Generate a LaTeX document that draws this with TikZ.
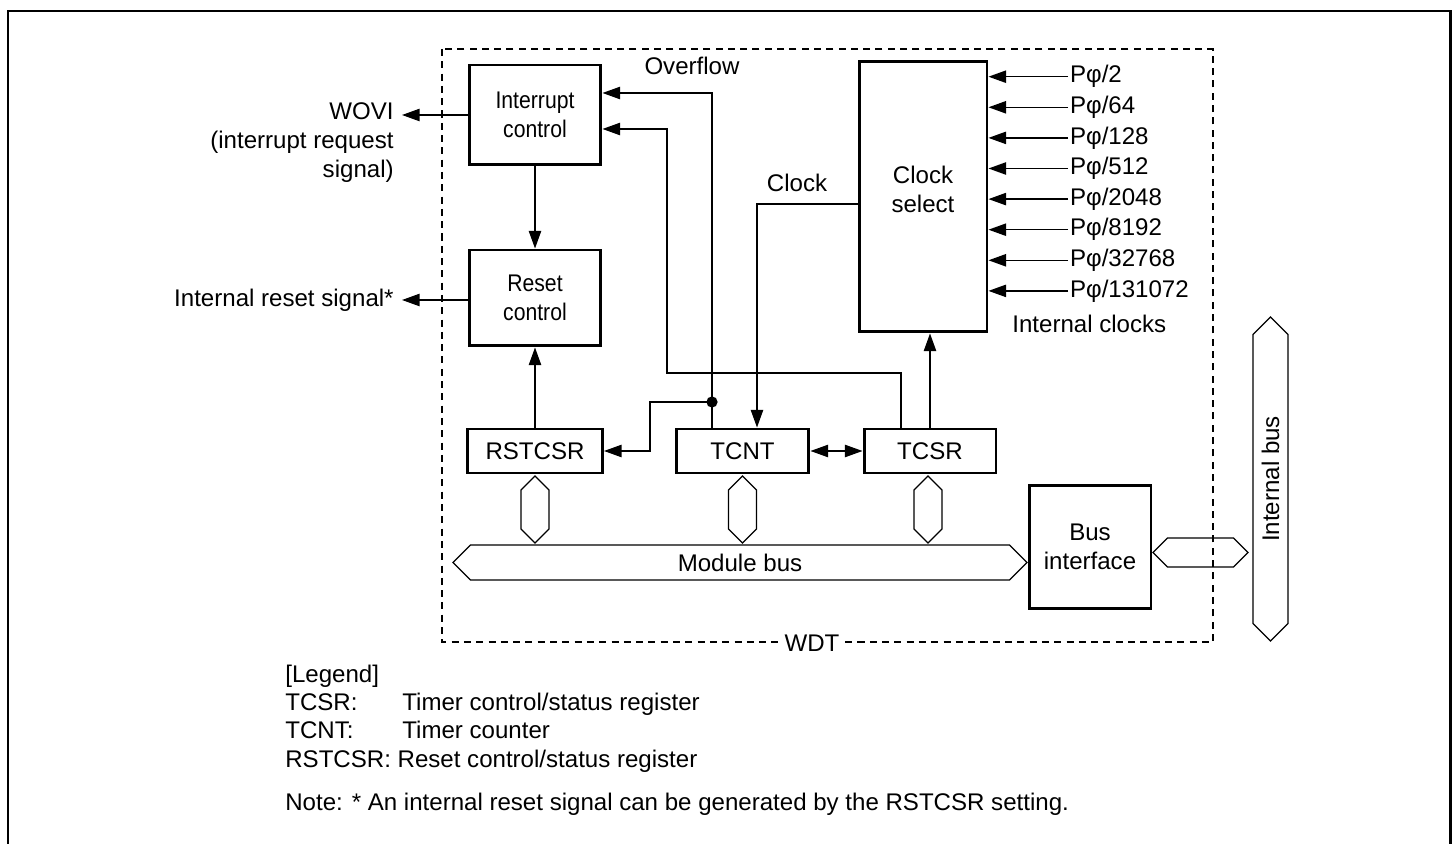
\documentclass[tikz,border=0pt]{standalone}
\usepackage{fontspec}
\setmainfont{Liberation Sans}
\newfontfamily\narrowfont[FakeStretch=0.88]{Liberation Sans}
\usetikzlibrary{arrows.meta,shapes.symbols}
\newcommand{\diagsize}{\fontsize{13.7}{16.5}\selectfont}

\begin{document}
\begin{tikzpicture}[x=0.02cm,y=-0.02cm,font=\diagsize,
  >={Triangle[length=10pt,width=7pt]},
  block/.style={draw,line width=1.7pt,align=center,inner sep=0pt},
  narrow/.style={font=\narrowfont\diagsize},
  lbl/.style={inner sep=0pt},
  wire/.style={line width=0.8pt},
  bus/.style={draw,shape=signal,signal to=east and west,line width=0.7pt,inner sep=0pt,signal pointer angle=90},
  frame/.style={line width=1.7pt},
  wdt/.style={dash pattern=on 4pt off 3pt,line width=0.7pt}]
 \useasboundingbox (0,0) rectangle (1455,844);
 \draw[frame] (8,844) -- (8,11) -- (1450,11) -- (1450,844);
 \draw[wdt] (442,49) rectangle (1213,642);
 \node[lbl,fill=white,inner xsep=1pt] (wdtname) at (812,643) {WDT};

 \node[block,narrow,minimum width=2.64cm,minimum height=2cm] (intc) at (535,115) {Interrupt\\control};
 \node[block,narrow,minimum width=2.64cm,minimum height=1.92cm] (rstc) at (535,298) {Reset\\control};
 \node[block,minimum width=2.7cm,minimum height=0.88cm] (rstcsr) at (535,451) {RSTCSR};
 \node[block,minimum width=2.66cm,minimum height=0.88cm] (tcnt) at (742.5,451) {TCNT};
 \node[block,minimum width=2.64cm,minimum height=0.88cm] (tcsr) at (930,451) {TCSR};
 \node[block,minimum width=2.56cm,minimum height=5.42cm] (clksel) at (923,196.5) {Clock\\select\\[-8.5pt]};
 \node[block,minimum width=2.44cm,minimum height=2.48cm] (busif) at (1090,547) {Bus\\interface};

 \node[bus,minimum width=11.48cm,minimum height=0.7cm] (modbus) at (740,562.5) {Module bus};
 \node[bus,rotate=90,minimum width=1.34cm,minimum height=0.56cm] (rsthex) at (535,509.5) {};
 \node[bus,rotate=90,minimum width=1.34cm,minimum height=0.56cm] (tcnthex) at (742.5,509.5) {};
 \node[bus,rotate=90,minimum width=1.34cm,minimum height=0.56cm] (tcsrhex) at (928,509.5) {};
 \node[bus,minimum width=1.9cm,minimum height=0.58cm] (ifhex) at (1200.5,552.5) {};
 \node[bus,rotate=90,minimum width=6.48cm,minimum height=0.7cm] (intbus) at (1270.5,479) {Internal bus};

 \node[lbl,anchor=base] (ovflbl) at (692,75) {Overflow};
 \node[lbl,anchor=base] (clklbl) at (797,192) {Clock};
 \node[lbl,anchor=base west] (clkslbl) at (1012,333) {Internal clocks};
 \node[lbl,anchor=north east,align=right] (wovilbl) at (394,102) {WOVI\\(interrupt request\\signal)};
 \node[lbl,anchor=base east] (rstlbl) at (394,307) {Internal reset signal*};

 \node[lbl,anchor=west,inner sep=1pt] (p2) at (1068,76.7) {Pφ/2};
 \node[lbl,anchor=west,inner sep=1pt] (p64) at (1068,107.3) {Pφ/64};
 \node[lbl,anchor=west,inner sep=1pt] (p128) at (1068,137.9) {Pφ/128};
 \node[lbl,anchor=west,inner sep=1pt] (p512) at (1068,168.5) {Pφ/512};
 \node[lbl,anchor=west,inner sep=1pt] (p2048) at (1068,199.1) {Pφ/2048};
 \node[lbl,anchor=west,inner sep=1pt] (p8192) at (1068,229.7) {Pφ/8192};
 \node[lbl,anchor=west,inner sep=1pt] (p32768) at (1068,260.3) {Pφ/32768};
 \node[lbl,anchor=west,inner sep=1pt] (p131072) at (1068,290.9) {Pφ/131072};

 \coordinate (ovf) at (712,402);
 \coordinate (ovfbend) at (712,93);
 \coordinate (rstbend) at (650,402);
 \coordinate (intbend) at (901,373);
 \coordinate (intup) at (667,129);
 \coordinate (clkbend) at (757,204);
 \coordinate (woviout) at (402,115);
 \coordinate (rstout) at (402,300);

 \draw[wire,->] (intc) -- (rstc);
 \draw[wire,->] (rstcsr) -- (rstc);
 \draw[wire,<->] (tcnt) -- (tcsr);
 \draw[wire,->] (tcsr.north) -- (tcsr.north |- clksel.south);
 \draw[wire,->] (tcnt.north -| ovf) -- (ovfbend) -- (intc.east |- ovfbend);
 \fill (ovf) circle[radius=3.2pt];
 \draw[wire,->] (ovf) -- (rstbend) |- (rstcsr.east);
 \draw[wire,->] (tcsr.north -| intbend) -- (intbend) -| (intup) -- (intc.east |- intup);
 \draw[wire,->] (clksel.west |- clkbend) -- (clkbend) -- (tcnt.north -| clkbend);
 \draw[wire,->] (intc.west) -- (woviout);
 \draw[wire,->] (rstc.west |- rstout) -- (rstout);
 \draw[wire,->] (p2.west) -- (p2.west -| clksel.east);
 \draw[wire,->] (p64.west) -- (p64.west -| clksel.east);
 \draw[wire,->] (p128.west) -- (p128.west -| clksel.east);
 \draw[wire,->] (p512.west) -- (p512.west -| clksel.east);
 \draw[wire,->] (p2048.west) -- (p2048.west -| clksel.east);
 \draw[wire,->] (p8192.west) -- (p8192.west -| clksel.east);
 \draw[wire,->] (p32768.west) -- (p32768.west -| clksel.east);
 \draw[wire,->] (p131072.west) -- (p131072.west -| clksel.east);

 \node[lbl,anchor=base west] (lgd) at (285,683) {[Legend]};
 \node[lbl,anchor=base west] (tcsrkey) at (285,710) {TCSR:};
 \node[lbl,anchor=base west] (tcsrdef) at (402,710) {Timer control/status register};
 \node[lbl,anchor=base west] (tcntkey) at (285,738) {TCNT:};
 \node[lbl,anchor=base west] (tcntdef) at (402,738) {Timer counter};
 \node[lbl,anchor=base west] (rstdef) at (285,767) {RSTCSR: Reset control/status register};
 \node[lbl,anchor=base west] (note) at (285,810) {Note: * An internal reset signal can be generated by the RSTCSR setting.};
\end{tikzpicture}
\end{document}
